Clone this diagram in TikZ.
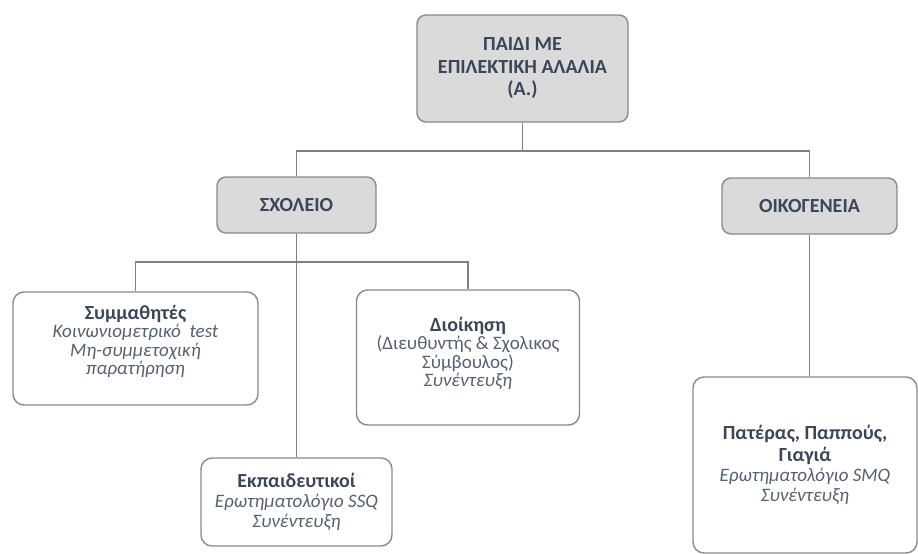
\documentclass[tikz,border=0pt]{standalone}
\usepackage{fontspec}
\setmainfont{Carlito}
\definecolor{boxfill}{HTML}{DADADA}
\definecolor{boxline}{HTML}{8A8A8A}
\definecolor{connline}{HTML}{808080}
\definecolor{headtxt}{HTML}{3B4657}
\definecolor{bodytxt}{HTML}{56606E}
\tikzset{
  graybox/.style={draw=boxline, line width=1.4pt, fill=boxfill, rounded corners=9pt,
    align=center, text=headtxt, font=\bfseries\fontsize{20}{22.5}\selectfont, inner sep=0pt},
  whitebox/.style={draw=boxline, line width=1.4pt, fill=white, rounded corners=11pt,
    align=center, text=bodytxt, font=\fontsize{19}{20}\selectfont, inner sep=0pt},
  boxtext/.style={align=center, text=bodytxt, font=\fontsize{19}{18.5}\selectfont, inner sep=0pt},
  conn/.style={draw=connline, line width=1.1pt}
}
\newcommand{\hd}[1]{{\bfseries\fontsize{20}{20}\selectfont\color{headtxt}#1}}
\begin{document}
\begin{tikzpicture}[x=1pt,y=-1pt]
\useasboundingbox (0,0) rectangle (918,554);
\node[graybox, minimum width=211pt, minimum height=107pt] (root) at (522.5,68.5)
  {ΠΑΙΔΙ ΜΕ\\ΕΠΙΛΕΚΤΙΚΗ ΑΛΑΛΙΑ\\(Α.)};
\node[graybox, minimum width=159pt, minimum height=56pt] (school) at (296.5,205) {ΣΧΟΛΕΙΟ};
\node[graybox, minimum width=175pt, minimum height=56pt] (family) at (809.5,206) {ΟΙΚΟΓΕΝΕΙΑ};
\node[whitebox, minimum width=245pt, minimum height=113pt] (peers) at (135.5,348.5) {};
\node[boxtext] (peerstxt) at ([yshift=7pt]peers.center)
  {\hd{Συμμαθητές}\\\itshape Κοινωνιομετρικό\ \ test\\\itshape Μη-συμμετοχική\\\itshape παρατήρηση};
\node[whitebox, minimum width=223pt, minimum height=135pt] (admin) at (468,357.5) {};
\node[boxtext] (admintxt) at ([yshift=4pt]admin.center)
  {\hd{Διοίκηση}\\(Διευθυντής \& Σχολικος\\Σύμβουλος)\\\itshape Συνέντευξη};
\node[whitebox, minimum width=191pt, minimum height=88pt] (teach) at (296.5,502)
  {\hd{Εκπαιδευτικοί}\\\itshape Ερωτηματολόγιο SSQ\\\itshape Συνέντευξη};
\node[whitebox, minimum width=224pt, minimum height=176pt] (kin) at (805,465)
  {\hd{Πατέρας, Παππούς,}\\[2pt]\hd{Γιαγιά}\\\itshape Ερωτηματολόγιο SMQ\\\itshape Συνέντευξη};
% connectors
\coordinate (j1) at (root.south |- 0,151);
\coordinate (j2) at (school.south |- 0,262);
\draw[conn] (root.south) -- (j1);
\draw[conn] (school.north) |- (j1) -| (family.north);
\draw[conn] (school.south) -- (teach.north);
\draw[conn] (peers.north) |- (j2) -| (admin.north);
\draw[conn] (family.south) -- (family.south |- kin.north);
\end{tikzpicture}
\end{document}
